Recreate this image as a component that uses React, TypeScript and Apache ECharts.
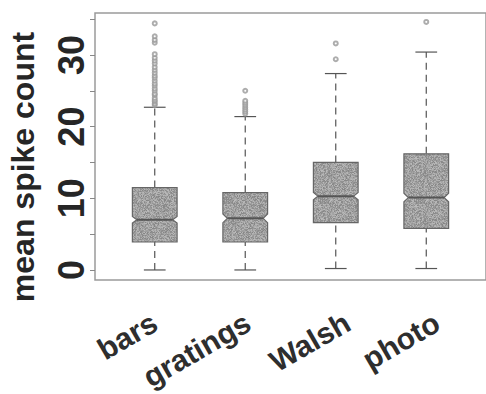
import React, { useEffect, useRef } from "react";
import * as echarts from "echarts";

const categories = ["bars", "gratings", "Walsh", "photo"];
const whiskerLow = [0, 0, 0.2, 0.2];
const q1 = [3.9, 3.9, 6.6, 5.8];
const medians = [7.0, 7.2, 10.3, 10.1];
const q3 = [11.5, 10.8, 15.0, 16.2];
const whiskerHigh = [22.7, 21.4, 27.4, 30.4];
const notchHalf = [0.45, 0.6, 0.5, 0.6];

const outliersBars = [23.0, 23.2, 23.5, 23.7, 24.0, 24.4, 24.6, 25.0, 25.3, 25.7, 26.0, 26.4, 26.8, 27.1, 27.5, 27.9, 28.3, 28.8, 29.2, 29.6, 30.1, 31.7, 32.1, 32.6, 34.4];
const outliersGratings = [21.8, 22.1, 22.4, 22.7, 23.0, 23.3, 23.6, 25.0];
const outliersWalsh = [29.4, 31.6];
const outliersPhoto = [34.6];
const outlierLists = [outliersBars, outliersGratings, outliersWalsh, outliersPhoto];

const yTicks = [0, 5, 10, 15, 20, 25, 30, 35];
const yLabels = [0, 10, 20, 30];
const xLabelAnchors = [1.0, 2.03, 3.13, 4.12];

function makeTexture(): HTMLCanvasElement {
  const size = 48;
  const cv = document.createElement("canvas");
  cv.width = size;
  cv.height = size;
  const ctx = cv.getContext("2d")!;
  const img = ctx.createImageData(size, size);
  let s = 12345;
  for (let i = 0; i < size * size; i++) {
    s = (s * 1103515245 + 12345) & 0x7fffffff;
    const r = (s >> 8) % 100;
    const v = 160 + Math.round((r - 50) * 0.55);
    img.data[i * 4] = v;
    img.data[i * 4 + 1] = v;
    img.data[i * 4 + 2] = v;
    img.data[i * 4 + 3] = 255;
  }
  ctx.putImageData(img, 0, 0);
  return cv;
}

export default function App() {
  const ref = useRef<HTMLDivElement>(null);
  useEffect(() => {
    if (!ref.current) return;
    const chart = echarts.init(ref.current, null, { renderer: "svg" });
    const tex = makeTexture();
    const fillPattern: any = { image: tex, repeat: "repeat", imageWidth: 48, imageHeight: 48 };

    const boxData = categories.map((_, i) => [
      i + 1, whiskerLow[i], q1[i], medians[i], q3[i], whiskerHigh[i], notchHalf[i],
    ]);
    const outlierData: number[][] = [];
    outlierLists.forEach((list, i) => list.forEach((v) => outlierData.push([i + 1, v])));

    const dark = "#555";
    const hw = 0.247;
    const nf = 0.8;
    const cw = 0.12;

    chart.setOption({
      animation: false,
      grid: {
        left: 95, width: 394, top: 13, bottom: 114,
        show: true, borderColor: "#9a9a9a", borderWidth: 1.5, backgroundColor: "transparent",
      },
      xAxis: {
        type: "value", min: 0.34, max: 4.66,
        axisLine: { show: false }, axisTick: { show: false }, splitLine: { show: false },
        axisLabel: {
          customValues: xLabelAnchors,
          formatter: (v: number) => categories[Math.round(v) - 1] ?? "",
          rotate: 30, margin: 40,
          fontSize: 30, fontWeight: "bold", color: "#2e2e2e", fontFamily: "Liberation Sans",
        },
      },
      yAxis: {
        type: "value", min: -1.4, max: 35.85,
        axisLine: { show: false }, splitLine: { show: false },
        axisTick: { show: true, length: 5, customValues: yTicks, lineStyle: { color: "#888", width: 1 } },
        axisLabel: {
          customValues: yLabels, rotate: 90, margin: 6,
          fontSize: 36, fontWeight: "bold", color: "#262626", fontFamily: "Liberation Sans",
        },
      },
      graphic: [
        {
          type: "text", x: 23, y: 167, rotation: Math.PI / 2,
          style: {
            text: "mean spike count", fontSize: 32, fontWeight: "bold", fontFamily: "Liberation Sans",
            fill: "#262626", align: "center", verticalAlign: "middle",
          },
        },
      ],
      series: [
        {
          type: "custom",
          data: boxData,
          encode: { x: 0, y: [1, 2, 3, 4, 5] },
          renderItem: (params: any, api: any) => {
            const x = api.value(0);
            const lo = api.value(1), a = api.value(2), m = api.value(3), b = api.value(4), hi = api.value(5);
            const nh = api.value(6);
            const c = (xx: number, yy: number) => api.coord([xx, yy]);
            const poly = [
              c(x - hw, a), c(x + hw, a), c(x + hw, m - nh), c(x + hw * nf, m), c(x + hw, m + nh),
              c(x + hw, b), c(x - hw, b), c(x - hw, m + nh), c(x - hw * nf, m), c(x - hw, m - nh),
            ];
            const line = (p1: number[], p2: number[], dash?: number[], w = 1.2) => ({
              type: "line",
              shape: { x1: p1[0], y1: p1[1], x2: p2[0], y2: p2[1] },
              style: { stroke: dark, lineWidth: w, lineDash: dash },
            });
            return {
              type: "group",
              children: [
                line(c(x, b), c(x, hi), [7, 5]),
                line(c(x, lo), c(x, a), [7, 5]),
                line(c(x - cw, hi), c(x + cw, hi)),
                line(c(x - cw, lo), c(x + cw, lo)),
                {
                  type: "polygon",
                  shape: { points: poly },
                  style: { fill: fillPattern, stroke: "#666", lineWidth: 1.2 },
                },
                line(c(x - hw * nf, m), c(x + hw * nf, m), undefined, 2),
              ],
            };
          },
          z: 2,
        },
        {
          type: "scatter",
          data: outlierData,
          symbol: "emptyCircle",
          symbolSize: 4,
          itemStyle: { color: "#999", borderColor: "#888", borderWidth: 1 },
          z: 3,
        },
      ],
    });
    return () => chart.dispose();
  }, []);
  return (
    <div
      ref={ref}
      style={{ position: "fixed", left: 0, top: 0, width: 486, height: 394, background: "#fff" }}
    />
  );
}
